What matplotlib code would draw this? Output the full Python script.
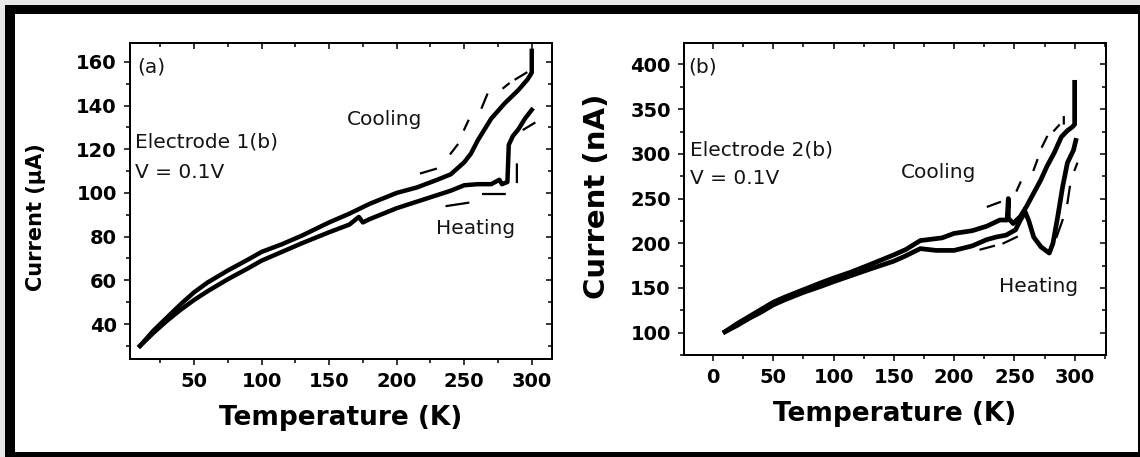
import numpy as np
import matplotlib
matplotlib.use("Agg")
import matplotlib.pyplot as plt
from matplotlib.patches import Rectangle
from matplotlib.ticker import MultipleLocator, NullFormatter

plt.rcParams['font.family'] = ['DejaVu Sans']

# ---- panel (a): electrode 1, current in uA ----
a_cool_T = [300, 300, 297, 290, 280, 270, 265, 260, 255, 250, 240, 230, 215, 200, 180,
            165, 150, 130, 115, 100, 90, 75, 60, 50, 40, 30, 20, 15, 10]
a_cool_I = [165, 155, 152, 147, 141, 134, 129, 124, 118, 114, 108.5, 106, 102.5, 100, 95,
            90.5, 86.5, 80.5, 76.5, 73, 69.5, 64.5, 59, 54.5, 49, 43, 37, 33.5, 30]

a_heat_T = [10, 20, 30, 40, 50, 60, 75, 90, 100, 115, 130, 150, 165, 172, 175, 180, 200,
            215, 230, 240, 250, 260, 270, 276, 278, 282, 283, 286, 290, 295, 300]
a_heat_I = [30, 36, 41.5, 46.5, 51, 55, 60.5, 65.5, 69, 73, 77, 82, 85.5, 89, 86.5, 88, 93,
            96, 99, 101, 103.5, 104, 104, 106, 104, 105, 122, 126, 129, 134, 138]

# faint broken fragments beside the main traces (NaN = gap)
a_frag_T = [218, 229, np.nan, 240, 245, np.nan, 250, 253, np.nan, 263, 267, np.nan,
            279, 283, np.nan, 288, 296, np.nan, 237, 253, np.nan, 264, 280, np.nan,
            289, 289, np.nan, 294, 302]
a_frag_I = [109, 111, np.nan, 118, 122, np.nan, 129, 133, np.nan, 139, 145, np.nan,
            148, 150, np.nan, 152, 155, np.nan, 94, 95.5, np.nan, 99.5, 99.5, np.nan,
            105, 113, np.nan, 129, 132]

# ---- panel (b): electrode 2, current in nA ----
b_cool_T = [300, 300, 298, 294, 289, 283, 277, 272, 266, 260, 255, 249, 245, 245, 244, 238,
            227, 215, 200, 190, 172, 160, 150, 130, 115, 100, 90, 75, 60, 50, 40, 30, 20, 10]
b_cool_I = [380, 333, 330, 326, 319, 301, 286, 271, 256, 241, 230, 222, 228, 250, 226, 226,
            219, 214, 211, 206, 203, 193, 187, 176, 168, 161, 156, 148, 140, 134, 126, 118, 110, 101]

b_heat_T = [10, 20, 30, 40, 50, 60, 75, 90, 100, 115, 130, 150, 160, 172, 185, 200, 215, 227,
            235, 243, 251, 255, 259, 262, 266, 272, 276, 279, 282, 286, 290, 294, 299, 301]
b_heat_I = [101, 108, 116, 123, 131, 137, 145, 152, 157, 164, 171, 180, 186, 194, 192, 192, 197, 204,
            207, 209, 215, 226, 235, 225, 207, 196, 192, 189, 200, 230, 263, 290, 304, 315]

b_frag_T = [228, 238, np.nan, 252, 255, np.nan, 266, 269, np.nan, 273, 277, np.nan,
            283, 287, np.nan, 291, 291, np.nan, 285, 290, np.nan, 294, 296, np.nan,
            300, 302, np.nan, 241, 252, np.nan, 222, 233]
b_frag_I = [241, 246, np.nan, 259, 268, np.nan, 282, 293, np.nan, 308, 319, np.nan,
            326, 332, np.nan, 334, 341, np.nan, 207, 226, np.nan, 245, 263, np.nan,
            282, 289, np.nan, 200, 207, np.nan, 193, 197]

W, H = 1140, 457
fig = plt.figure(figsize=(W / 100, H / 100), dpi=100)

# outer frame: light grey margin, thick black border (open on the right)
fig.patches.append(Rectangle((0, 0), 1, 1, transform=fig.transFigure,
                             facecolor='#e8e8e8', edgecolor='none', zorder=-3))
fig.patches.append(Rectangle((5 / W, 0), 1, (H - 5) / H, transform=fig.transFigure,
                             facecolor='black', edgecolor='none', zorder=-2))
fig.patches.append(Rectangle((15 / W, 5 / H), (1138 - 15) / W, (H - 14 - 5) / H,
                             transform=fig.transFigure, facecolor='white',
                             edgecolor='none', zorder=-1))


def style_axes(ax, xmaj, xmin, ymaj, ymin):
    ax.xaxis.set_major_locator(MultipleLocator(xmaj))
    ax.xaxis.set_minor_locator(MultipleLocator(xmin))
    ax.yaxis.set_major_locator(MultipleLocator(ymaj))
    ax.yaxis.set_minor_locator(MultipleLocator(ymin))
    for s in ax.spines.values():
        s.set_linewidth(1.3)
    ax.tick_params(which='both', direction='out', width=1.1, labelsize=14, pad=5)
    ax.tick_params(which='major', length=4.5)
    ax.tick_params(which='minor', length=3)
    for lab in ax.get_xticklabels() + ax.get_yticklabels():
        lab.set_fontweight('bold')


def twin_ticks(ax, xmaj, xmin, ymaj, ymin):
    # inward ticks on top and right, without labels
    tx = ax.twiny()
    tx.set_xlim(ax.get_xlim())
    tx.xaxis.set_major_locator(MultipleLocator(xmaj))
    tx.xaxis.set_minor_locator(MultipleLocator(xmin))
    tx.xaxis.set_major_formatter(NullFormatter())
    tx.tick_params(which='both', direction='in', width=1.1)
    tx.tick_params(which='major', length=4.5)
    tx.tick_params(which='minor', length=3)
    ty = ax.twinx()
    ty.set_ylim(ax.get_ylim())
    ty.yaxis.set_major_locator(MultipleLocator(ymaj))
    ty.yaxis.set_minor_locator(MultipleLocator(ymin))
    ty.yaxis.set_major_formatter(NullFormatter())
    ty.tick_params(which='both', direction='in', width=1.1)
    ty.tick_params(which='major', length=4.5)
    ty.tick_params(which='minor', length=3)
    for t in (tx, ty):
        for s in t.spines.values():
            s.set_linewidth(1.3)


# ---- left panel ----
ax1 = fig.add_axes([130 / W, 1 - 359 / H, (552 - 130) / W, (359 - 43) / H])
ax1.plot(a_cool_T, a_cool_I, color='black', lw=3.2, solid_joinstyle='round')
ax1.plot(a_heat_T, a_heat_I, color='black', lw=3.2, solid_joinstyle='round')
ax1.plot(a_frag_T, a_frag_I, color='black', lw=1.6)
ax1.set_xlim(2.6, 315)
ax1.set_ylim(24, 168.6)
style_axes(ax1, 50, 25, 20, 10)
ax1.set_xlabel('Temperature (K)', fontsize=19, fontweight='bold', labelpad=10)
ax1.set_ylabel('Current (\u03bcA)', fontsize=15, fontweight='bold')
ax1.yaxis.set_label_coords(-0.2, 0.45)
twin_ticks(ax1, 50, 25, 20, 10)

# ---- right panel ----
ax2 = fig.add_axes([684 / W, 1 - 355 / H, (1106 - 684) / W, (355 - 43) / H])
ax2.plot(b_cool_T, b_cool_I, color='black', lw=3.4, solid_joinstyle='round')
ax2.plot(b_heat_T, b_heat_I, color='black', lw=3.4, solid_joinstyle='round')
ax2.plot(b_frag_T, b_frag_I, color='black', lw=1.6)
ax2.set_xlim(-24, 326)
ax2.set_ylim(75, 424)
style_axes(ax2, 50, 25, 50, 25)
ax2.set_xlabel('Temperature (K)', fontsize=19, fontweight='bold', labelpad=10)
ax2.set_ylabel('Current (nA)', fontsize=21, fontweight='bold')
ax2.yaxis.set_label_coords(-0.172, 0.51)
twin_ticks(ax2, 50, 25, 50, 25)

# ---- annotations ----
txt = dict(fontsize=14.5, color='#141414', va='center', ha='left')
fig.text(137 / W, 1 - 67 / H, '(a)', **txt)
fig.text(135 / W, 1 - 142 / H, 'Electrode 1(b)', **txt)
fig.text(135 / W, 1 - 173 / H, 'V = 0.1V', **txt)
fig.text(347 / W, 1 - 119 / H, 'Cooling', **txt)
fig.text(436 / W, 1 - 228 / H, 'Heating', **txt)

fig.text(688 / W, 1 - 67 / H, '(b)', **txt)
fig.text(690 / W, 1 - 150 / H, 'Electrode 2(b)', **txt)
fig.text(690 / W, 1 - 178 / H, 'V = 0.1V', **txt)
fig.text(901 / W, 1 - 173 / H, 'Cooling', **txt)
fig.text(999 / W, 1 - 287 / H, 'Heating', **txt)

fig.savefig('out.png', dpi=100)
